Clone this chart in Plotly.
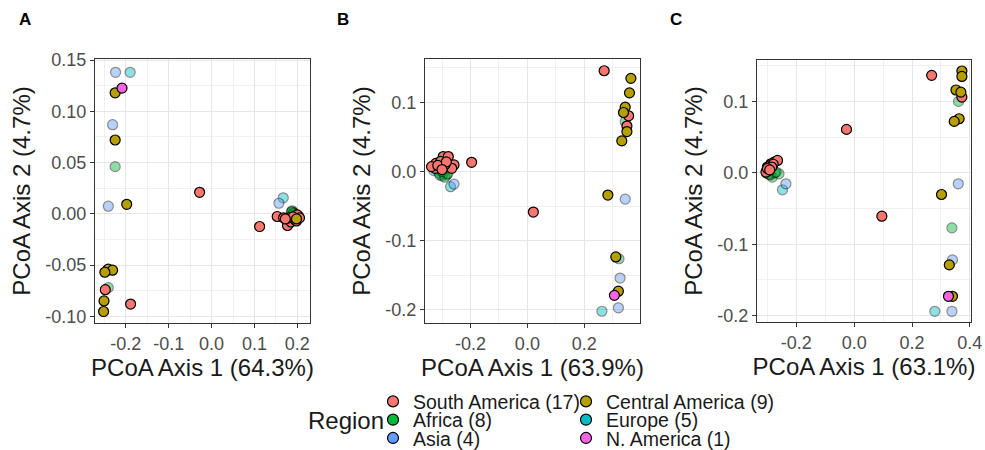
import plotly.graph_objects as go

# ---------------- data ----------------
region_names = ["South America (17)", "Central America (9)", "Africa (8)",
                "Europe (5)", "Asia (4)", "N. America (1)"]
region_colors = ["#F8766D", "#B79F00", "#00BA38", "#00BFC4", "#619CFF", "#F564E3"]
region_alpha = [1.0, 1.0, 0.45, 0.45, 0.45, 1.0]

# Panel A
a_sa_x = [-0.243, -0.248, -0.189, -0.028, 0.112, 0.153, 0.168, 0.177, 0.203, 0.185, 0.195, 0.180, 0.200, 0.190, 0.172, 0.198, 0.205]
a_sa_y = [-0.055, -0.074, -0.088, 0.021, -0.0124, -0.0026, -0.0039, -0.0114, -0.0026, -0.008, -0.006, -0.004, -0.001, -0.003, -0.005, -0.007, -0.004]
a_ca_x = [-0.225, -0.225, -0.198, -0.241, -0.231, -0.249, -0.251, -0.252, 0.198]
a_ca_y = [0.118, 0.072, 0.0093, -0.054, -0.055, -0.057, -0.085, -0.0953, -0.005]
a_af_x = [-0.225, -0.241, 0.188, 0.190, 0.185, 0.192, 0.195, 0.186]
a_af_y = [0.046, -0.072, 0.003, 0.0, -0.002, 0.001, -0.001, 0.002]
a_eu_x = [-0.190, 0.167, 0.188, 0.192, 0.190]
a_eu_y = [0.138, 0.0156, 0.002, 0.0, 0.001]
a_as_x = [-0.224, -0.231, -0.241, 0.157]
a_as_y = [0.138, 0.0869, 0.0074, 0.0103]
a_na_x = [-0.209]
a_na_y = [0.1226]

# Panel B
b_sa_x = [0.270, 0.356, 0.350, 0.021, -0.196, -0.296, -0.278, -0.322, -0.258, -0.325, -0.266, -0.337, -0.305, -0.290, -0.315, -0.285, -0.300]
b_sa_y = [0.146, 0.0808, 0.066, -0.0585, 0.0135, 0.0218, 0.0218, 0.012, 0.0097, 0.0048, 0.0048, 0.0073, 0.015, 0.010, 0.009, 0.014, 0.003]
b_ca_x = [0.364, 0.359, 0.344, 0.338, 0.350, 0.332, 0.283, 0.311, 0.320]
b_ca_y = [0.135, 0.114, 0.0934, 0.0856, 0.058, 0.0445, -0.0339, -0.1234, -0.173]
b_af_x = [0.344, 0.322, -0.284, -0.296, -0.308, -0.290, -0.300, -0.280]
b_af_y = [0.0726, -0.126, -0.0048, -0.0024, -0.005, -0.008, 0.0, -0.003]
b_eu_x = [0.262, -0.329, -0.270, -0.300, -0.310]
b_eu_y = [-0.202, 0.0015, -0.0218, -0.006, -0.002]
b_as_x = [0.344, 0.326, 0.320, -0.258]
b_as_y = [-0.0397, -0.154, -0.197, -0.018]
b_na_x = [0.306]
b_na_y = [-0.179]

# Panel C
c_sa_x = [0.268, 0.3725, -0.0265, 0.0957, -0.277, -0.265, -0.288, -0.300, -0.303, -0.295, -0.290, -0.280, -0.298, -0.305, -0.285, -0.300, -0.292]
c_sa_y = [0.1365, 0.106, 0.0608, -0.0608, 0.015, 0.0173, 0.0126, 0.008, 0.002, 0.005, 0.010, 0.012, 0.003, 0.001, 0.008, 0.006, 0.004]
c_ca_x = [0.3725, 0.3725, 0.352, 0.369, 0.363, 0.346, 0.302, 0.329, 0.340]
c_ca_y = [0.1426, 0.135, 0.116, 0.113, 0.0757, 0.072, -0.0304, -0.129, -0.173]
c_af_x = [0.361, 0.338, -0.283, -0.260, -0.290, -0.275, -0.295, -0.270]
c_af_y = [0.100, -0.0771, -0.006, -0.0014, -0.003, 0.0, -0.002, 0.001]
c_eu_x = [0.279, -0.248, -0.303, -0.303, -0.303]
c_eu_y = [-0.194, -0.0238, 0.0, 0.0, 0.0]
c_as_x = [0.360, 0.340, 0.338, -0.236]
c_as_y = [-0.0154, -0.122, -0.194, -0.0154]
c_na_x = [0.326]
c_na_y = [-0.173]

x_titles = ["PCoA Axis 1 (64.3%)", "PCoA Axis 1 (63.9%)", "PCoA Axis 1 (63.1%)"]
y_title = "PCoA Axis 2 (4.7%)"
legend_title = "Region"
panel_letters = ["A", "B", "C"]

a_xticks = [-0.2, -0.1, 0.0, 0.1, 0.2]
a_xlabels = ["-0.2", "-0.1", "0.0", "0.1", "0.2"]
a_yticks = [-0.10, -0.05, 0.0, 0.05, 0.10, 0.15]
a_ylabels = ["-0.10", "-0.05", "0.00", "0.05", "0.10", "0.15"]
b_xticks = [-0.2, 0.0, 0.2]
b_xlabels = ["-0.2", "0.0", "0.2"]
b_yticks = [-0.2, -0.1, 0.0, 0.1]
b_ylabels = ["-0.2", "-0.1", "0.0", "0.1"]
c_xticks = [-0.2, 0.0, 0.2, 0.4]
c_xlabels = ["-0.2", "0.0", "0.2", "0.4"]
c_yticks = [-0.2, -0.1, 0.0, 0.1]
c_ylabels = ["-0.2", "-0.1", "0.0", "0.1"]

panels = [
    [(a_sa_x, a_sa_y), (a_ca_x, a_ca_y), (a_af_x, a_af_y), (a_eu_x, a_eu_y), (a_as_x, a_as_y), (a_na_x, a_na_y)],
    [(b_sa_x, b_sa_y), (b_ca_x, b_ca_y), (b_af_x, b_af_y), (b_eu_x, b_eu_y), (b_as_x, b_as_y), (b_na_x, b_na_y)],
    [(c_sa_x, c_sa_y), (c_ca_x, c_ca_y), (c_af_x, c_af_y), (c_eu_x, c_eu_y), (c_as_x, c_as_y), (c_na_x, c_na_y)],
]

# ---------------- layout geometry ----------------
W, H = 985, 450
FONT = "Liberation Sans, Arial, Helvetica, sans-serif"
px_domains_x = [(95, 310), (425, 640), (757, 971)]
px_domains_y = [(59, 323), (59, 323), (60, 322)]
x_ranges = [(-0.272, 0.2295), (-0.360, 0.396), (-0.336, 0.404)]
y_ranges = [(-0.1065, 0.151), (-0.219, 0.163), (-0.209, 0.158)]
x_minor = [0.05, 0.1, 0.1]
y_minor = [0.025, 0.05, 0.05]
xticks = [(a_xticks, a_xlabels), (b_xticks, b_xlabels), (c_xticks, c_xlabels)]
yticks = [(a_yticks, a_ylabels), (b_yticks, b_ylabels), (c_yticks, c_ylabels)]
letter_px = [17, 335, 668]
draw_order = [3, 4, 2, 0, 1, 5]   # Europe, Asia, Africa, S. America, C. America, N. America

fig = go.Figure()

for p in range(3):
    xa = "x" if p == 0 else f"x{p+1}"
    ya = "y" if p == 0 else f"y{p+1}"
    for r in draw_order:
        xs, ys = panels[p][r]
        fig.add_trace(go.Scatter(
            x=xs, y=ys, mode="markers", xaxis=xa, yaxis=ya,
            name=region_names[r], showlegend=False, hoverinfo="skip",
            marker=dict(size=10, color=region_colors[r], opacity=region_alpha[r],
                        line=dict(color="black", width=1.2)),
        ))

# legend entries (opaque keys), three rows of two
legend_ids = ["legend", "legend", "legend2", "legend2", "legend3", "legend3"]
legend_widths = [148, 210, 148, 210, 148, 210]
for r in range(6):
    fig.add_trace(go.Scatter(
        x=[None], y=[None], mode="markers", name=region_names[r],
        legend=legend_ids[r], showlegend=True, legendwidth=legend_widths[r],
        marker=dict(size=11, color=region_colors[r], line=dict(color="black", width=1.2)),
    ))

axis_common = dict(
    showline=True, mirror=True, linecolor="#333333", linewidth=1.2,
    ticks="outside", ticklen=4, tickwidth=1.1, tickcolor="#333333",
    showgrid=True, gridcolor="#E6E6E6", gridwidth=1.3, zeroline=False,
    tickfont=dict(family=FONT, size=18, color="#4D4D4D"),
    title_font=dict(family=FONT, size=24, color="#1A1A1A"),
)

layout = dict(
    width=W, height=H, margin=dict(l=0, r=0, t=0, b=0, autoexpand=False),
    paper_bgcolor="white", plot_bgcolor="white",
    font=dict(family=FONT, color="#1A1A1A"),
    annotations=[],
)
for p in range(3):
    xk = "xaxis" if p == 0 else f"xaxis{p+1}"
    yk = "yaxis" if p == 0 else f"yaxis{p+1}"
    ya_ref = "y" if p == 0 else f"y{p+1}"
    xa_ref = "x" if p == 0 else f"x{p+1}"
    (x0, x1), (y0, y1) = px_domains_x[p], px_domains_y[p]
    layout[xk] = dict(axis_common, domain=[x0 / W, x1 / W], range=list(x_ranges[p]),
                      anchor=ya_ref, tickmode="array", tickvals=xticks[p][0], ticktext=xticks[p][1],
                      title=dict(text=x_titles[p], standoff=0),
                      minor=dict(dtick=x_minor[p], tick0=0, showgrid=True, gridcolor="#F0F0F0", gridwidth=0.8, ticks=""))
    layout[yk] = dict(axis_common, domain=[1 - y1 / H, 1 - y0 / H], range=list(y_ranges[p]),
                      anchor=xa_ref, tickmode="array", tickvals=yticks[p][0], ticktext=yticks[p][1],
                      title=dict(text=y_title, standoff=7),
                      minor=dict(dtick=y_minor[p], tick0=0, showgrid=True, gridcolor="#F0F0F0", gridwidth=0.8, ticks=""))
    layout["annotations"].append(dict(
        text=f"<b>{panel_letters[p]}</b>", xref="paper", yref="paper",
        x=letter_px[p] / W, y=1 - 19 / H, xanchor="left", yanchor="middle",
        showarrow=False, font=dict(family=FONT, size=17, color="black")))

layout["annotations"].append(dict(
    text=legend_title, xref="paper", yref="paper", x=306 / W, y=1 - 420 / H,
    xanchor="left", yanchor="middle", showarrow=False,
    font=dict(family=FONT, size=24, color="#1A1A1A")))

leg_common = dict(orientation="h", xanchor="left", yanchor="middle",
                  bgcolor="rgba(0,0,0,0)", borderwidth=0, itemwidth=30,
                  font=dict(family=FONT, size=19.5, color="#1A1A1A"), itemclick=False)
layout["legend"] = dict(leg_common, x=373 / W, y=1 - 401.7 / H)
layout["legend2"] = dict(leg_common, x=373 / W, y=1 - 420 / H)
layout["legend3"] = dict(leg_common, x=373 / W, y=1 - 438.3 / H)

fig.update_layout(**layout)
fig.write_html("out.html", config={"displayModeBar": False},
               post_script="document.body.style.margin='0';")
